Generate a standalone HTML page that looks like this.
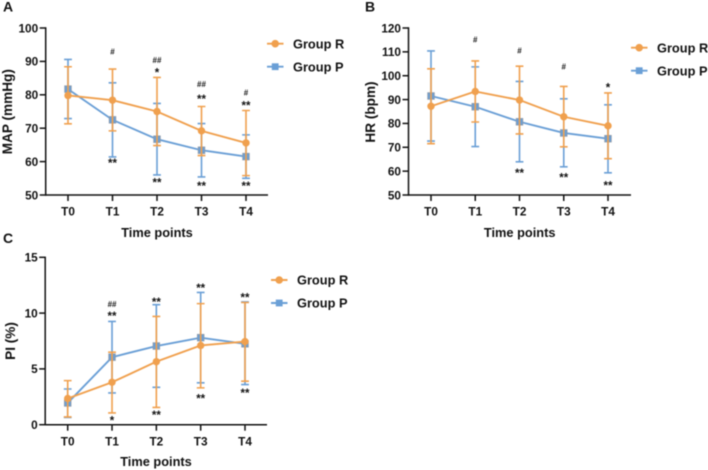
<!DOCTYPE html>
<html lang="en">
<head>
<meta charset="utf-8">
<title>Group R and Group P time-point charts</title>
<style>
  html, body { margin: 0; padding: 0; background: #fff; }
  body { width: 708px; height: 470px; overflow: hidden; }
  svg { display: block; filter: blur(0.4px); }
  text { font-family: "Liberation Sans", sans-serif; font-weight: bold; fill: #111; }
</style>
</head>
<body>
<svg id="figure" xmlns="http://www.w3.org/2000/svg" width="708" height="470" viewBox="0 0 708 470"></svg>
<script>
// Shared categories
const categories = ["T0", "T1", "T2", "T3", "T4"];

// Panel A: MAP
const mapTicks = [50, 60, 70, 80, 90, 100];
const mapRMean = [79.8, 78.4, 75.0, 69.2, 65.6];
const mapRUpper = [88.4, 87.7, 85.2, 76.5, 75.3];
const mapRLower = [71.3, 69.2, 64.8, 61.8, 55.8];
const mapPMean = [81.7, 72.5, 66.7, 63.4, 61.5];
const mapPUpper = [90.6, 83.6, 77.4, 71.4, 68.0];
const mapPLower = [72.9, 61.4, 56.0, 55.4, 55.0];
const mapNoteText = ["#", "##", "*", "##", "**", "#", "**", "**", "**", "**", "**"];
const mapNoteCat = [1, 2, 2, 3, 3, 4, 4, 1, 2, 3, 4];
const mapNoteLevel = [92.9, 90.4, 87.2, 83.1, 79.2, 80.7, 77.3, 60.1, 54.2, 53.2, 53.2];

// Panel B: HR
const hrTicks = [50, 60, 70, 80, 90, 100, 110, 120];
const hrRMean = [87.2, 93.4, 89.8, 82.8, 79.0];
const hrRUpper = [102.9, 106.2, 104.0, 95.5, 92.8];
const hrRLower = [71.5, 80.6, 75.6, 70.2, 65.2];
const hrPMean = [91.5, 87.0, 80.7, 76.0, 73.6];
const hrPUpper = [110.4, 103.7, 97.6, 90.3, 87.8];
const hrPLower = [72.6, 70.3, 63.9, 61.8, 59.3];
const hrNoteText = ["#", "#", "#", "*", "**", "**", "**"];
const hrNoteCat = [1, 2, 3, 4, 2, 3, 4];
const hrNoteLevel = [115.0, 110.5, 103.8, 95.8, 59.8, 58.0, 54.6];

// Panel C: PI
const piTicks = [0, 5, 10, 15];
const piRMean = [2.35, 3.8, 5.65, 7.1, 7.45];
const piRUpper = [3.95, 6.5, 9.7, 10.85, 10.95];
const piRLower = [0.7, 1.05, 1.55, 3.3, 3.9];
const piPMean = [1.95, 6.05, 7.05, 7.8, 7.25];
const piPUpper = [3.2, 9.25, 10.75, 11.85, 11.0];
const piPLower = [0.65, 2.85, 3.35, 3.75, 3.6];
const piNoteText = ["##", "**", "*", "**", "**", "**", "**", "**", "**"];
const piNoteCat = [1, 1, 1, 2, 2, 3, 3, 4, 4];
const piNoteLevel = [10.8, 9.9, 0.5, 11.15, 1.0, 12.4, 2.5, 11.55, 3.0];

const ORANGE = "#f0a04e";
const BLUE = "#6a9fd6";
const INK = "#111";
const NS = "http://www.w3.org/2000/svg";
const root = document.getElementById("figure");

function make(parent, tag, attrs, content) {
  const el = document.createElementNS(NS, tag);
  for (const k in attrs) el.setAttribute(k, attrs[k]);
  if (content !== undefined) el.textContent = content;
  parent.appendChild(el);
  return el;
}

function drawSeries(parent, key, color, marker, xAt, yAt, mean, upper, lower) {
  const g = make(parent, "g", {});
  
  
  const capHalf = 3.9;
  mean.forEach((_, i) => {
    const x = xAt(i);
    const err = make(g, "path", {
      d: "M" + (x - capHalf) + " " + yAt(upper[i]) + "H" + (x + capHalf) +
         "M" + x + " " + yAt(upper[i]) + "V" + yAt(lower[i]) +
         "M" + (x - capHalf) + " " + yAt(lower[i]) + "H" + (x + capHalf),
      fill: "none", stroke: color, "stroke-width": 1.6
    });
    
    
  });
  const line = make(g, "polyline", {
    points: mean.map((v, i) => xAt(i) + "," + yAt(v)).join(" "),
    fill: "none", stroke: color, "stroke-width": 1.9
  });
  
  
  mean.forEach((v, i) => {
    const pt = marker === "circle"
      ? make(g, "circle", { cx: xAt(i), cy: yAt(v), r: 3.7, fill: color })
      : make(g, "rect", { x: xAt(i) - 3.3, y: yAt(v) - 3.3, width: 6.6, height: 6.6, fill: color, stroke: "#8f9aa8", "stroke-width": 0.8 });
    
    
  });
}

function drawLegendEntry(parent, label, color, marker, x, y) {
  const g = make(parent, "g", {});
  
  
  make(g, "line", { x1: x, x2: x + 16.5, y1: y, y2: y, stroke: color, "stroke-width": 1.9 });
  if (marker === "circle") make(g, "circle", { cx: x + 8.2, cy: y, r: 3.8, fill: color });
  else make(g, "rect", { x: x + 4.8, y: y - 3.4, width: 6.8, height: 6.8, fill: color });
  make(g, "text", { x: x + 26, y: y + 4.7, "font-size": 12.8 }, label);
}

function drawPanel(opts) {
  const panel = make(root, "g", {});
  
  
  const ticks = opts.ticks;
  const min = ticks[0], max = ticks[ticks.length - 1];
  const yAt = v => opts.bottom - (v - min) / (max - min) * (opts.bottom - opts.top);
  const xAt = i => opts.x0 + i * (opts.x4 - opts.x0) / (categories.length - 1);

  const letter = make(panel, "text", { x: opts.letterX, y: opts.letterY, "font-size": 14 }, opts.letter);
  
  

  const yAxis = make(panel, "g", {});
  
  
  make(yAxis, "line", { x1: opts.axisX, x2: opts.axisX, y1: opts.top - 0.7, y2: opts.bottom + 0.7, stroke: INK, "stroke-width": 1.5 });
  ticks.forEach(t => {
    make(yAxis, "line", { x1: opts.axisX - 6, x2: opts.axisX, y1: yAt(t), y2: yAt(t), stroke: INK, "stroke-width": 1.5 });
    make(yAxis, "text", { x: opts.axisX - 7.5, y: yAt(t) + 4.3, "font-size": 11.8, "text-anchor": "end" }, String(t));
  });

  const xAxis = make(panel, "g", {});
  
  
  make(xAxis, "line", { x1: opts.axisX, x2: opts.axisEnd, y1: opts.bottom, y2: opts.bottom, stroke: INK, "stroke-width": 1.5 });
  categories.forEach((c, i) => {
    make(xAxis, "line", { x1: xAt(i), x2: xAt(i), y1: opts.bottom, y2: opts.bottom + 6, stroke: INK, "stroke-width": 1.5 });
    make(xAxis, "text", { x: xAt(i), y: opts.bottom + 20.7, "font-size": 11.8, "text-anchor": "middle" }, c);
  });

  const xTitle = make(panel, "text", { x: opts.xTitleX, y: opts.xTitleY, "font-size": 12.8, "text-anchor": "middle" }, "Time points");
  
  

  const yTitle = make(panel, "text", {
    transform: "translate(" + opts.yTitleX + " " + opts.yTitleY + ") rotate(-90)",
    "font-size": 13.6, "text-anchor": "middle"
  }, opts.yTitle);
  
  

  drawSeries(panel, "group-p", BLUE, "square", xAt, yAt, opts.pMean, opts.pUpper, opts.pLower);
  drawSeries(panel, "group-r", ORANGE, "circle", xAt, yAt, opts.rMean, opts.rUpper, opts.rLower);

  opts.noteText.forEach((s, i) => {
    const isHash = s.charAt(0) === "#";
    const note = make(panel, "text", {
      x: xAt(opts.noteCat[i]),
      y: yAt(opts.noteLevel[i]) + (isHash ? 2.8 : 5.6),
      "font-size": isHash ? 8 : 11.5,
      "text-anchor": "middle",
      fill: isHash ? "#555" : "#111"
    }, s);
    
    
  });

  const legend = make(panel, "g", {});
  
  
  drawLegendEntry(legend, "Group R", ORANGE, "circle", opts.legendX, opts.legendY1);
  drawLegendEntry(legend, "Group P", BLUE, "square", opts.legendX, opts.legendY2);
}

drawPanel({
  id: "map", letter: "A", letterX: 3, letterY: 11.7,
  ticks: mapTicks, top: 28, bottom: 195, axisX: 45.7, axisEnd: 268, x0: 68, x4: 246,
  xTitleX: 157, xTitleY: 237, yTitle: "MAP (mmHg)", yTitleX: 12, yTitleY: 111.7,
  rMean: mapRMean, rUpper: mapRUpper, rLower: mapRLower,
  pMean: mapPMean, pUpper: mapPUpper, pLower: mapPLower,
  noteText: mapNoteText, noteCat: mapNoteCat, noteLevel: mapNoteLevel,
  legendX: 267, legendY1: 43.7, legendY2: 66.7
});

drawPanel({
  id: "hr", letter: "B", letterX: 365, letterY: 11.7,
  ticks: hrTicks, top: 28, bottom: 195, axisX: 408.5, axisEnd: 631, x0: 431, x4: 608,
  xTitleX: 519.7, xTitleY: 237, yTitle: "HR (bpm)", yTitleX: 375, yTitleY: 112,
  rMean: hrRMean, rUpper: hrRUpper, rLower: hrRLower,
  pMean: hrPMean, pUpper: hrPUpper, pLower: hrPLower,
  noteText: hrNoteText, noteCat: hrNoteCat, noteLevel: hrNoteLevel,
  legendX: 631, legendY1: 47.7, legendY2: 70.7
});

drawPanel({
  id: "pi", letter: "C", letterX: 3, letterY: 243,
  ticks: piTicks, top: 257.3, bottom: 424.7, axisX: 45.2, axisEnd: 267, x0: 67.7, x4: 245,
  xTitleX: 156, xTitleY: 466, yTitle: "PI (%)", yTitleX: 15, yTitleY: 341,
  rMean: piRMean, rUpper: piRUpper, rLower: piRLower,
  pMean: piPMean, pUpper: piPUpper, pLower: piPLower,
  noteText: piNoteText, noteCat: piNoteCat, noteLevel: piNoteLevel,
  legendX: 271, legendY1: 280, legendY2: 303
});
</script>
</body>
</html>
